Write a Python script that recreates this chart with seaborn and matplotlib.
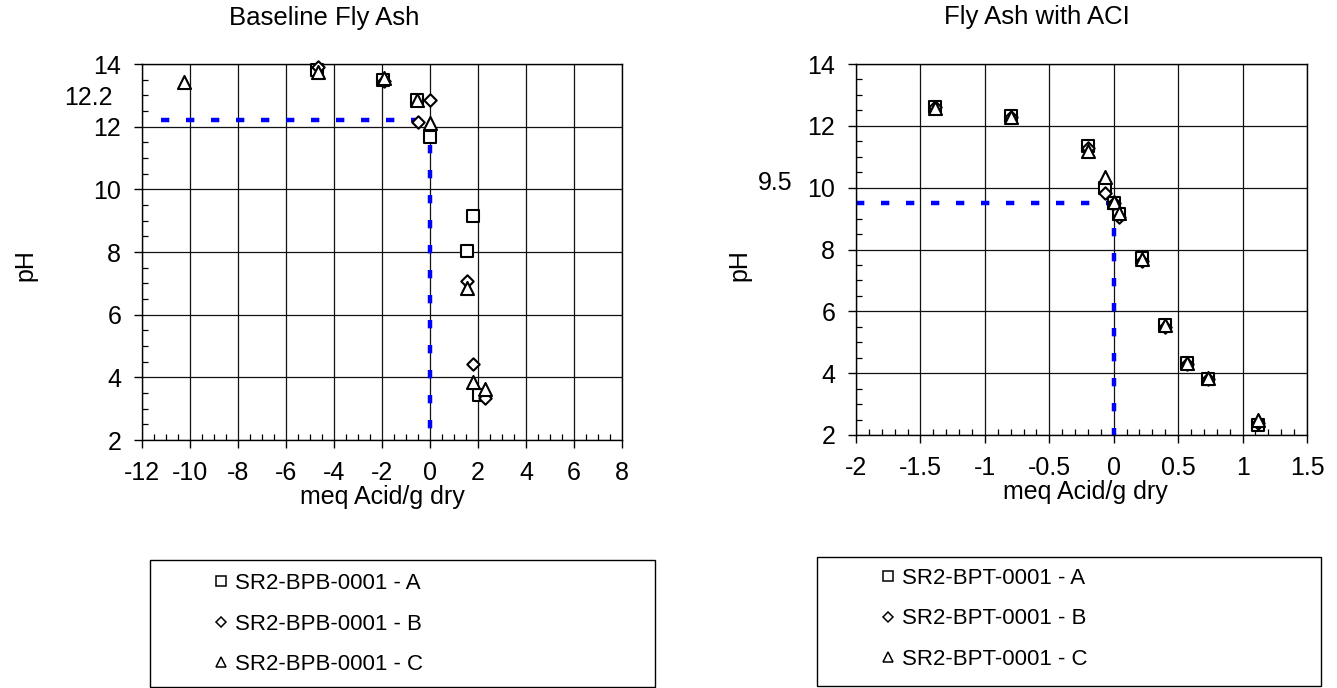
import numpy as np
import pandas as pd
import matplotlib
matplotlib.use("Agg")
import matplotlib.pyplot as plt
from matplotlib.lines import Line2D
from matplotlib.patches import Rectangle
from matplotlib.ticker import MultipleLocator
import seaborn as sns

# ================================
# 1. Data
# ================================
# Baseline Fly Ash
base_a_x = [-4.70, -1.95, -0.56, 0.00, 1.56, 1.81, 2.05]
base_a_y = [13.80, 13.50, 12.86, 11.68, 8.02, 9.15, 3.45]
base_b_x = [-4.68, -1.93, 0.00, -0.51, 1.53, 1.81, 2.28]
base_b_y = [13.92, 13.45, 12.86, 12.14, 7.09, 4.42, 3.35]
base_c_x = [-10.25, -4.68, -1.93, -0.56, 0.00, 1.56, 1.78, 2.28]
base_c_y = [13.44, 13.76, 13.55, 12.86, 12.12, 6.85, 3.84, 3.62]

# Fly Ash with ACI
aci_a_x = [-1.39, -0.80, -0.20, -0.07, 0.00, 0.04, 0.22, 0.40, 0.57, 0.73, 1.12]
aci_a_y = [12.60, 12.32, 11.35, 10.00, 9.50, 9.15, 7.72, 5.55, 4.33, 3.82, 2.33]
aci_b_x = [-1.39, -0.80, -0.20, -0.07, 0.00, 0.04, 0.22, 0.40, 0.57, 0.73, 1.12]
aci_b_y = [12.62, 12.30, 11.28, 9.82, 9.52, 9.05, 7.62, 5.50, 4.30, 3.80, 2.38]
aci_c_x = [-1.39, -0.80, -0.20, -0.07, 0.00, 0.04, 0.22, 0.40, 0.57, 0.73, 1.12]
aci_c_y = [12.58, 12.30, 11.20, 10.35, 9.55, 9.18, 7.68, 5.55, 4.33, 3.85, 2.48]

base_labels = ["SR2-BPB-0001 - A", "SR2-BPB-0001 - B", "SR2-BPB-0001 - C"]
aci_labels = ["SR2-BPT-0001 - A", "SR2-BPT-0001 - B", "SR2-BPT-0001 - C"]

base_ph = 12.2
base_ph_start = -11.2
aci_ph = 9.5

# ================================
# 2. Style
# ================================
sns.set_style("white")
plt.rcParams['font.family'] = ['Liberation Sans', 'DejaVu Sans']
plt.rcParams['lines.scale_dashes'] = False
plt.rcParams['axes.unicode_minus'] = False
plt.rcParams['text.color'] = 'black'
plt.rcParams['axes.labelcolor'] = 'black'
plt.rcParams['xtick.color'] = 'black'
plt.rcParams['ytick.color'] = 'black'

markers = ['s', 'D', '^']
sizes = [78, 40, 88]

fig = plt.figure(figsize=(13.37, 6.88), dpi=100)
ax1 = fig.add_axes([142 / 1337, 1 - 440 / 688, 480 / 1337, 376 / 688])
ax2 = fig.add_axes([856 / 1337, 1 - 435 / 688, 451 / 1337, 371 / 688])


def draw_panel(ax, series, ph, x_start):
    # blue dashed guide lines
    ax.plot([x_start, 0], [ph, ph], color='#0000FF', lw=3.2,
            linestyle=(0, (6, 12)), zorder=2, clip_on=False)
    ax.plot([0, 0], [ph, 2], color='#0000FF', lw=3.2,
            linestyle=(0, (6, 12)), zorder=2, clip_on=False)
    for (xs, ys), m, s in zip(series, markers, sizes):
        sns.scatterplot(x=xs, y=ys, ax=ax, marker=m, s=s, facecolor='white',
                        edgecolor='black', linewidth=1.5, zorder=3, clip_on=False)
    ax.grid(True, which='major', color='#111111', lw=0.9)
    for sp in ax.spines.values():
        sp.set_color('black')
        sp.set_linewidth(1.0)
    ax.tick_params(axis='both', which='both', bottom=True, left=True)
    ax.tick_params(axis='both', which='major', direction='out', length=6,
                   width=1, color='black', labelsize=18)
    ax.tick_params(axis='y', which='major', pad=9)
    ax.tick_params(axis='x', which='major', pad=9)
    ax.tick_params(axis='both', which='minor', direction='in', length=4,
                   width=0.9, color='black')
    ax.set_ylim(2, 14)
    ax.yaxis.set_major_locator(MultipleLocator(2))
    ax.yaxis.set_minor_locator(MultipleLocator(0.5))
    ax.set_xlabel("meq Acid/g dry", fontsize=18)
    ax.set_ylabel("pH", fontsize=18)
    ax.xaxis.label.set_va('center')
    ax.yaxis.label.set_va('center')


draw_panel(ax1, [(base_a_x, base_a_y), (base_b_x, base_b_y), (base_c_x, base_c_y)],
           base_ph, base_ph_start)
ax1.set_xlim(-12, 8)
ax1.xaxis.set_major_locator(MultipleLocator(2))
ax1.xaxis.set_minor_locator(MultipleLocator(0.5))
ax1.xaxis.set_label_coords(0.5, -(497 - 440) / 376)
ax1.yaxis.set_label_coords((25 - 142) / 480, (440 - 265) / 376)

draw_panel(ax2, [(aci_a_x, aci_a_y), (aci_b_x, aci_b_y), (aci_c_x, aci_c_y)],
           aci_ph, -2)
ax2.set_xlim(-2, 1.5)
ax2.set_xticks([-2, -1.5, -1, -0.5, 0, 0.5, 1, 1.5])
ax2.set_xticklabels(["-2", "-1.5", "-1", "-0.5", "0", "0.5", "1", "1.5"])
ax2.xaxis.set_minor_locator(MultipleLocator(0.1))
ax2.xaxis.set_label_coords((1085 - 856) / 451, -(492 - 435) / 371)
ax2.yaxis.set_label_coords((739 - 856) / 451, (435 - 265) / 371)

# titles and value labels
fig.text(324 / 1337, 1 - 18 / 688, "Baseline Fly Ash", fontsize=18.5,
         ha='center', va='center')
fig.text(1037 / 1337, 1 - 17 / 688, "Fly Ash with ACI", fontsize=18.5,
         ha='center', va='center')
fig.text(88 / 1337, 1 - 98 / 688, "12.2", fontsize=18, ha='center', va='center')
fig.text(775 / 1337, 1 - 183 / 688, "9.5", fontsize=18, ha='center', va='center')

# ================================
# 3. Legends (boxed, below each panel)
# ================================
def draw_legend(labels, box, x_left, y_center):
    x0, y0, x1, y1 = box
    fig.patches.append(Rectangle((x0 / 1337, 1 - y1 / 688), (x1 - x0) / 1337,
                                 (y1 - y0) / 688, transform=fig.transFigure,
                                 fill=False, edgecolor='black', lw=1.0))
    handles = [Line2D([], [], linestyle='none', marker=m, markersize=ms,
                      markerfacecolor='white', markeredgecolor='black', markeredgewidth=1.1)
               for m, ms in zip(markers, [7, 5, 7.5])]
    fig.legend(handles, labels, loc='center left',
               bbox_to_anchor=(x_left / 1337, 1 - y_center / 688),
               frameon=False, fontsize=16, handlelength=0.6, handletextpad=0.35,
               labelspacing=0.88, borderpad=0, borderaxespad=0)


draw_legend(base_labels, (150, 560, 655, 687), 214, 624)
draw_legend(aci_labels, (817, 557, 1321, 686), 881, 619)

fig.savefig("out.png", dpi=100)
